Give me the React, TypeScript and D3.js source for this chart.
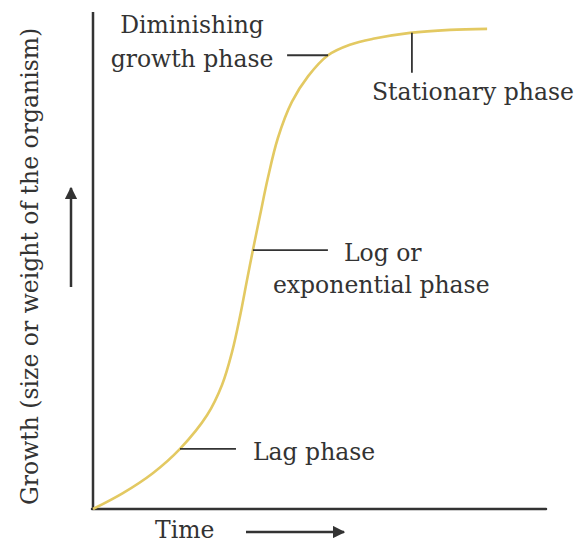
import React from "react";
import * as d3 from "d3";

// growth curve (time and growth both on a 0-100 scale)
const timeValues = [0, 6.6, 13.2, 19.2, 25.2, 28.5, 30.7, 32.5, 34.0, 35.3, 36.9, 38.6, 40.8, 43.9, 47.5, 51.9, 56.7, 61.8, 70.0, 78.8, 87.0];
const growthValues = [0, 3.2, 7.2, 12.1, 18.9, 25.0, 31.6, 39.0, 46.1, 52.1, 59.2, 66.6, 74.6, 81.9, 87.1, 91.3, 93.4, 94.6, 95.8, 96.4, 96.6];

// phase annotations: where the leader touches the curve
const phaseNames = ["Lag phase", "Log or exponential phase", "Diminishing growth phase", "Stationary phase"];
const phaseTimes = [19.2, 35.3, 51.9, 70.4];
const phaseGrowth = [12.1, 52.1, 91.3, 95.8];

const xLabel = "Time";
const yLabel = "Growth (size or weight of the organism)";

const W = 580, H = 544;
const origin = { x: 93, y: 509 };
const FONT = "'DejaVu Serif', serif";
const INK = "#333";

export default function App() {
  const x = d3.scaleLinear().domain([0, 100]).range([origin.x, 546]);
  const y = d3.scaleLinear().domain([0, 100]).range([origin.y, 12]);

  const pts = timeValues.map((t, i) => [t, growthValues[i]] as [number, number]);
  const line = d3.line<[number, number]>()
    .x(d => x(d[0]))
    .y(d => y(d[1]))
    .curve(d3.curveCatmullRom.alpha(0.5));

  const ax = (i: number) => x(phaseTimes[i]);
  const ay = (i: number) => y(phaseGrowth[i]);

  const textStyle = { fontFamily: FONT, fontSize: 23.5, fill: INK } as React.CSSProperties;

  return (
    <svg width={W} height={H} style={{ position: "absolute", left: 0, top: 0, background: "#fff" }}>
      <defs>
        <marker id="head" viewBox="0 0 10 10" refX="9" refY="5" markerWidth="5" markerHeight="5" orient="auto">
          <path d="M0,0 L10,5 L0,10 z" fill={INK} />
        </marker>
      </defs>

      {/* axes */}
      <line x1={origin.x} y1={y(100)} x2={origin.x} y2={origin.y + 1} stroke={INK} strokeWidth={2.5} />
      <line x1={origin.x - 1} y1={origin.y} x2={x(100)} y2={origin.y} stroke={INK} strokeWidth={2.5} strokeLinecap="round" />

      {/* curve */}
      <path d={line(pts) || ""} fill="none" stroke="#e3c962" strokeWidth={2.6} />

      {/* lag */}
      <line x1={ax(0)} y1={ay(0)} x2={ax(0) + 56} y2={ay(0)} stroke={INK} strokeWidth={1.8} />
      <text x={ax(0) + 73} y={ay(0) + 11} style={textStyle}>{phaseNames[0]}</text>

      {/* log */}
      <line x1={ax(1)} y1={ay(1)} x2={ax(1) + 75} y2={ay(1)} stroke={INK} strokeWidth={1.8} />
      <text x={ax(1) + 91} y={ay(1) + 11} style={textStyle}>Log or</text>
      <text x={ax(1) + 20} y={ay(1) + 43} style={textStyle}>exponential phase</text>

      {/* diminishing */}
      <line x1={ax(2) - 41} y1={ay(2)} x2={ax(2)} y2={ay(2)} stroke={INK} strokeWidth={1.8} />
      <text x={192} y={33} textAnchor="middle" style={textStyle}>Diminishing</text>
      <text x={192} y={67} textAnchor="middle" style={textStyle}>growth phase</text>

      {/* stationary */}
      <line x1={ax(3)} y1={ay(3)} x2={ax(3)} y2={ay(3) + 40} stroke={INK} strokeWidth={1.8} />
      <text x={372} y={100} style={textStyle}>{phaseNames[3]}</text>

      {/* axis titles */}
      <text x={155} y={538} style={textStyle}>{xLabel}</text>
      <line x1={246} y1={532} x2={344} y2={532} stroke={INK} strokeWidth={2.5} markerEnd="url(#head)" />

      <text transform={`translate(38,${origin.y - 4}) rotate(-90)`} style={textStyle}>{yLabel}</text>
      <line x1={71} y1={287} x2={71} y2={188} stroke={INK} strokeWidth={2.5} markerEnd="url(#head)" />
    </svg>
  );
}
